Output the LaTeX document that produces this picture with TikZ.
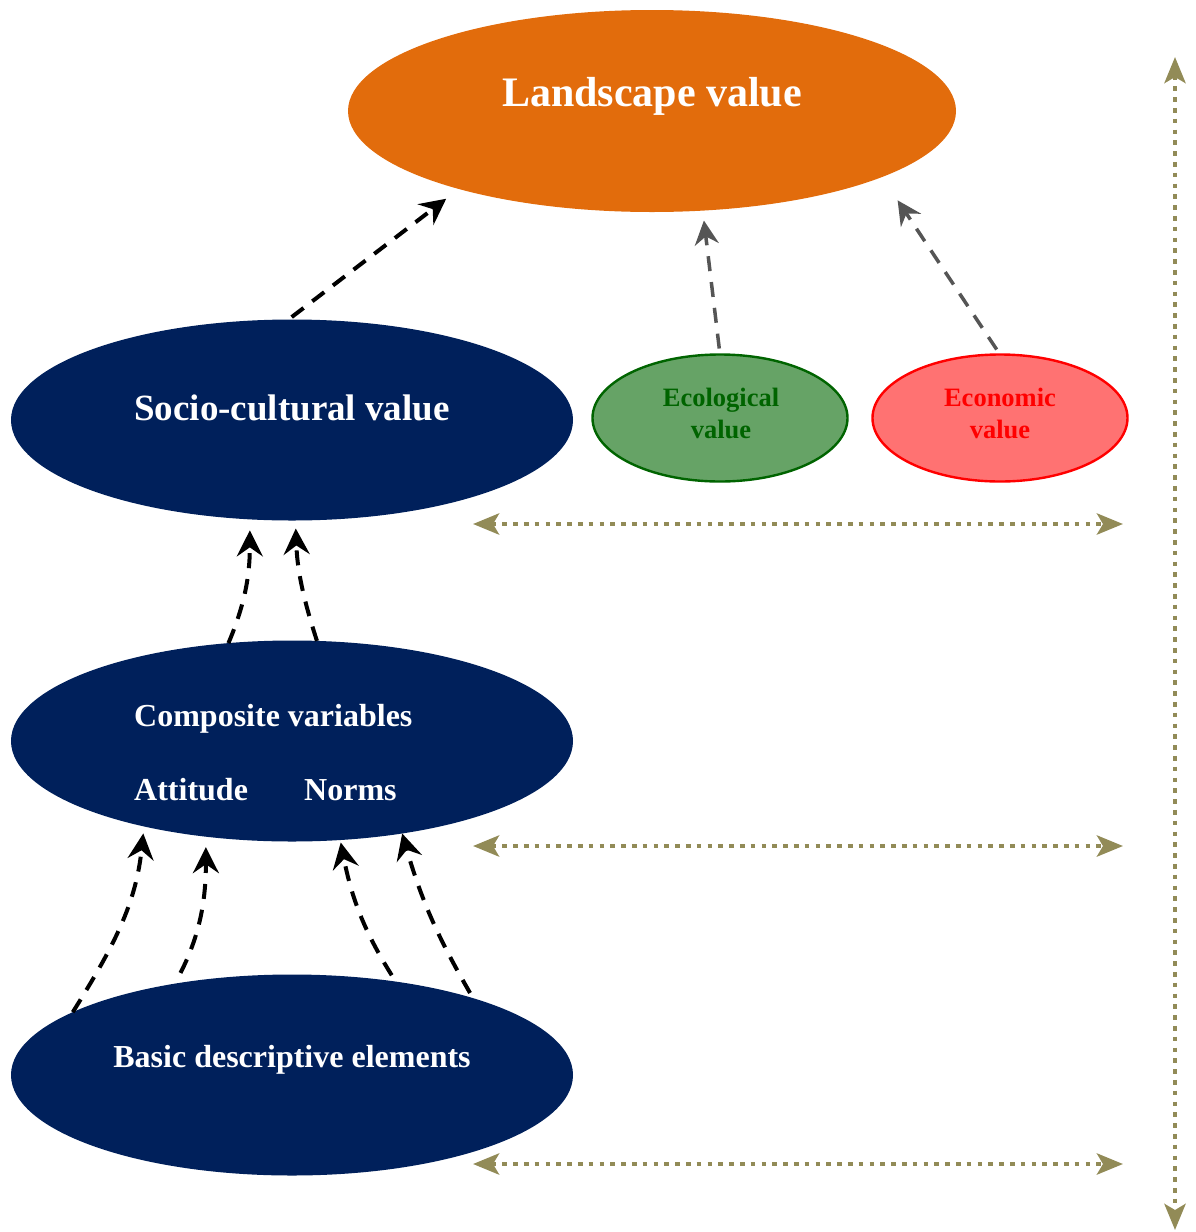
\documentclass[tikz,border=0pt]{standalone}
\usepackage{fontspec}
\setmainfont{Liberation Serif}
\usetikzlibrary{arrows.meta,shapes.geometric}
\definecolor{navyB}{RGB}{0,32,91}
\definecolor{orangeL}{RGB}{226,108,12}
\definecolor{dkgreen}{RGB}{0,100,0}
\definecolor{ecofill}{RGB}{102,163,102}
\definecolor{econfill}{RGB}{255,114,114}
\definecolor{oliveline}{RGB}{146,139,87}
\definecolor{grayline}{RGB}{85,85,85}
\tikzset{
  ell/.style={ellipse, inner sep=0pt, outer sep=0pt},
  bigell/.style={ell, fill=navyB, minimum width=562pt, minimum height=201pt},
  smallell/.style={ell, line width=2.4pt, minimum width=255pt, minimum height=127pt},
  lbl/.style={anchor=base, inner sep=0pt, text=white, font=\bfseries\fontsize{32}{38}\selectfont},
  blk/.style={draw=black, line width=4pt, dash pattern=on 15pt off 11pt,
    -{Stealth[length=26pt,width=26pt,inset=9pt]}},
  gry/.style={draw=grayline, line width=3.5pt, dash pattern=on 15pt off 11pt,
    -{Stealth[length=24pt,width=24pt,inset=8pt]}},
  dots/.style={draw=oliveline, line width=4.6pt, dash pattern=on 4.6pt off 6.2pt,
    {Stealth[length=26pt,width=21pt,inset=6pt]}-{Stealth[length=26pt,width=21pt,inset=6pt]}}
}
\begin{document}
\begin{tikzpicture}[x=1pt,y=1pt]
\useasboundingbox (0,0) rectangle (1195,-1232);
% ellipses
\node[ell, fill=orangeL, minimum width=608pt, minimum height=202pt] (land) at (652,-111) {};
\node[bigell] (soc) at (292,-420) {};
\node[bigell] (comp) at (292,-741) {};
\node[bigell] (basic) at (292,-1075) {};
\node[smallell, draw=dkgreen, fill=ecofill] (eco) at (720,-418) {};
\node[smallell, draw=red, fill=econfill] (econ) at (1000,-418) {};
% labels
\node[lbl, font=\bfseries\fontsize{42}{48}\selectfont] (landT) at (652,-106) {Landscape value};
\node[lbl, font=\bfseries\fontsize{37}{44}\selectfont] (socT) at (292,-420) {Socio-cultural value};
\node[lbl, anchor=base west] (compT) at (134,-726) {Composite variables};
\node[lbl, anchor=base west] (attT) at (134,-800) {Attitude};
\node[lbl, anchor=base west] (normT) at (304,-800) {Norms};
\node[lbl] (basicT) at (292,-1067) {Basic descriptive elements};
\node[lbl, text=dkgreen, font=\bfseries\fontsize{26.5}{32}\selectfont] (ecoT1) at (721,-406) {Ecological};
\node[lbl, text=dkgreen, font=\bfseries\fontsize{26.5}{32}\selectfont] (ecoT2) at (721,-438) {value};
\node[lbl, text=red, font=\bfseries\fontsize{26.5}{32}\selectfont] (econT1) at (1000,-406) {Economic};
\node[lbl, text=red, font=\bfseries\fontsize{26.5}{32}\selectfont] (econT2) at (1000,-438) {value};
% arrows to landscape
\draw[blk, shorten <=4pt, shorten >=16pt] (soc.92) -- (land.202);
\draw[gry, shorten <=6pt, shorten >=10pt] (eco.north) -- (land.-63.6);
\draw[gry, shorten <=6pt, shorten >=28pt] (econ.north) -- (land.-16.7);
% composite -> socio
\draw[blk, shorten >=11pt] (comp.123.1) to[out=67,in=-90] (soc.-113);
\draw[blk, shorten >=8pt] (comp.76) to[out=108,in=-88] (soc.-88.3);
% basic -> composite
\draw[blk, shorten >=7pt] (basic.164.9) to[out=58,in=-96] (comp.210.1);
\draw[blk, shorten <=12pt, shorten >=10.5pt] (basic.142.2) to[out=63,in=-90] (comp.228.9);
\draw[blk, shorten <=7.5pt, shorten >=2.5pt] (basic.42.8) to[out=122,in=-79] (comp.-64.5);
\draw[blk, shorten <=6pt] (basic.23) to[out=120,in=-74] (comp.-40);
% dotted level arrows
\coordinate (h1a) at (473,-524);
\coordinate (h1b) at (1123,-524);
\coordinate (h2a) at (473,-846);
\coordinate (h2b) at (1123,-846);
\coordinate (h3a) at (473,-1164);
\coordinate (h3b) at (1123,-1164);
\coordinate (vt) at (1175,-57);
\coordinate (vb) at (1175,-1230);
\draw[dots] (h1a) -- (h1b);
\draw[dots] (h2a) -- (h2b);
\draw[dots] (h3a) -- (h3b);
\draw[dots] (vt) -- (vb);
\end{tikzpicture}
\end{document}
